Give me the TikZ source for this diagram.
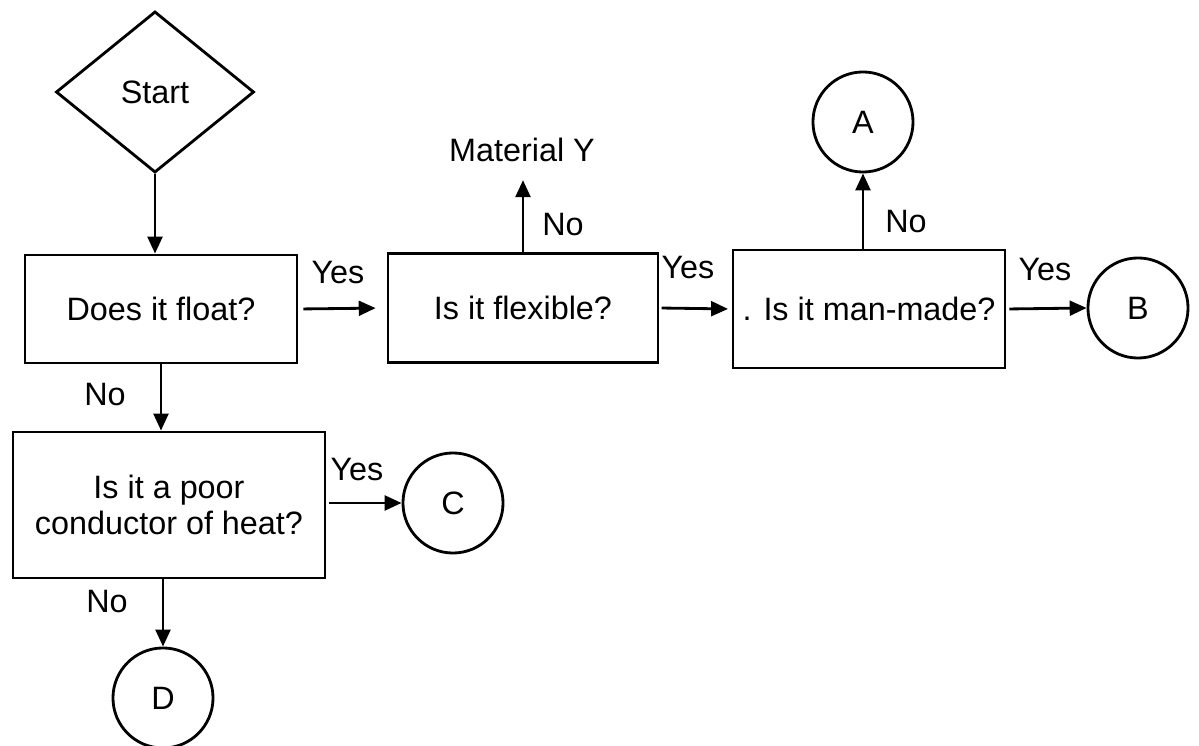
\documentclass[tikz,border=0pt]{standalone}
\usepackage{fontspec}
\setmainfont{Liberation Sans}
\usetikzlibrary{shapes.geometric,arrows.meta}
\tikzset{
  question/.style={draw,line width=0.8pt,align=center,inner sep=0pt},
  endpoint/.style={draw,circle,line width=0.8pt,minimum size=1cm,inner sep=0pt},
  answer/.style={inner sep=0pt},
  flow/.style={line width=0.8pt,-{Triangle[length=4.8pt,width=4.2pt]}}
}
\begin{document}
\begin{tikzpicture}[x=0.01cm,y=-0.01cm,font=\fontsize{9.2}{10.2}\selectfont]
    \useasboundingbox (0,0) rectangle (1199,746);
    \node[draw,diamond,line width=0.8pt,minimum width=1.98cm,minimum height=1.61cm,inner sep=0pt] (start) at (155,92) {Start};
    \node[question,minimum width=2.72cm,minimum height=1.08cm] (float) at (161,309) {Does it float?};
    \node[question,minimum width=2.70cm,minimum height=1.09cm] (flex) at (523,308) {Is it flexible?};
    \node[question,minimum width=2.72cm,minimum height=1.18cm] (manmade) at (869,309) {. Is it man-made?};
    \node[question,minimum width=3.12cm,minimum height=1.46cm] (poor) at (169,505) {Is it a poor\\conductor of heat?};
    \node[endpoint] (A) at (863,122) {A};
    \node[endpoint] (B) at (1138,308) {B};
    \node[endpoint] (C) at (453,503) {C};
    \node[endpoint] (D) at (163,698) {D};
    \node[answer] (maty) at (522,150) {Material Y};
    \node[answer] (yes1) at (338,273) {Yes};
    \node[answer] (no1) at (563,225) {No};
    \node[answer] (yes2) at (688,268) {Yes};
    \node[answer] (no2) at (906,222) {No};
    \node[answer] (yes3) at (1045,270) {Yes};
    \node[answer] (no3) at (105,395) {No};
    \node[answer] (yes4) at (357,470) {Yes};
    \node[answer] (no4) at (107,602) {No};
    \draw[flow] (start.south) -- (start.south |- float.north);
    \draw[flow,shorten <=1.4pt,shorten >=3.1pt] (float.east) -- (flex.west);
    \draw[flow,shorten >=5pt] (flex.north) -- (flex.north |- maty.south);
    \draw[flow,shorten <=0.6pt,shorten >=1pt] (flex.east) -- (manmade.west);
    \draw[flow] (A.south |- manmade.north) -- (A.south);
    \draw[flow,shorten <=0.8pt] (manmade.east) -- (B.west);
    \draw[flow] (float.south) -- (float.south |- poor.north);
    \draw[flow,shorten <=0.8pt] (poor.east |- C.west) -- (C.west);
    \draw[flow] (D.north |- poor.south) -- (D.north);
  \end{tikzpicture}
\end{document}
